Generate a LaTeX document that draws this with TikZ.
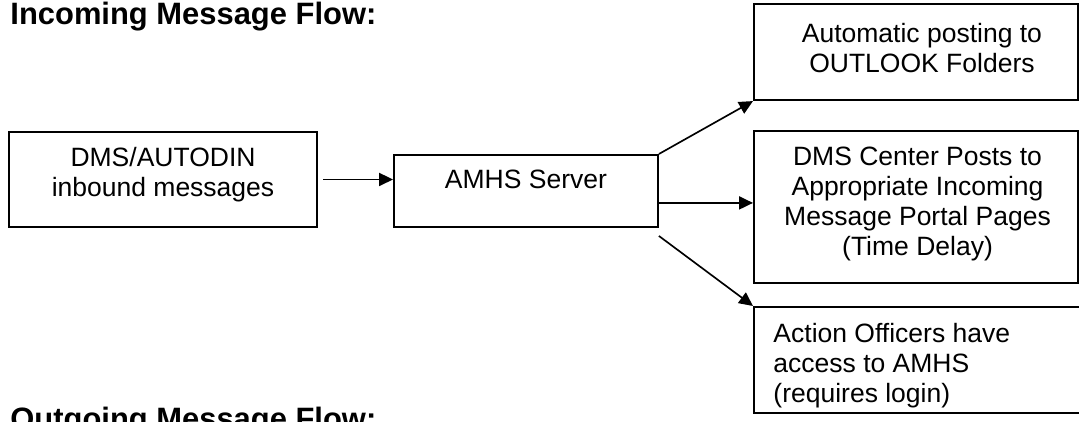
\documentclass[tikz,border=0pt]{standalone}
\usepackage{fontspec}
\setmainfont{Liberation Sans}
\usetikzlibrary{arrows.meta}
\begin{document}
\begin{tikzpicture}[x=0.4528pt,y=-0.4528pt,
  box/.style={draw, line width=0.9pt, anchor=north west, inner sep=0pt},
  txt/.style={inner sep=0pt, align=center, font=\fontsize{12}{13.58}\selectfont},
  ttl/.style={inner sep=0pt, anchor=base west, font=\bfseries\fontsize{14}{16}\selectfont},
  arr/.style={line width=0.75pt, -{Triangle[length=6.3pt,width=5.9pt]}}]
\useasboundingbox (0,0) rectangle (1079,421);
\node[ttl] (tin) at (10,24) {Incoming Message Flow:};
\node[ttl] (tout) at (10,429) {Outgoing Message Flow:};
\node[box, minimum width=139.5pt, minimum height=43pt,
  label={[txt, anchor=north, yshift=-7.2pt]north:{DMS/AUTODIN\\inbound messages}}] (dms) at (8,131) {};
\node[box, minimum width=119.5pt, minimum height=32.6pt,
  label={[txt, anchor=north, yshift=-7.2pt]north:{AMHS Server}}] (amhs) at (393,154) {};
\node[box, minimum width=146.7pt, minimum height=43.5pt,
  label={[txt, anchor=north, xshift=2.7pt, yshift=-9pt]north:{Automatic posting to\\OUTLOOK Folders}}] (auto) at (753,3) {};
\node[box, minimum width=146.7pt, minimum height=68.8pt,
  label={[txt, anchor=north, xshift=0.7pt, yshift=-7.7pt]north:{DMS Center Posts to\\Appropriate Incoming\\Message Portal Pages\\(Time Delay)}}] (dmsc) at (753,130) {};
\node[box, minimum width=152.6pt, minimum height=48pt,
  label={[txt, align=left, anchor=north west, xshift=9.06pt, yshift=-7.7pt]north west:{Action Officers have\\access to AMHS\\(requires login)}}] (act) at (753,306) {};
\draw[arr] ([xshift=2.3pt]dms.east) -- (dms.east -| amhs.west);
\draw[arr] ([yshift=-5.4pt]amhs.east) -- ([yshift=-5.4pt]amhs.east -| dmsc.west);
\draw[arr] (amhs.north east) -- (auto.south west);
\draw[arr] ([yshift=-3.6pt]amhs.south east) -- (act.north west);
\end{tikzpicture}
\end{document}
